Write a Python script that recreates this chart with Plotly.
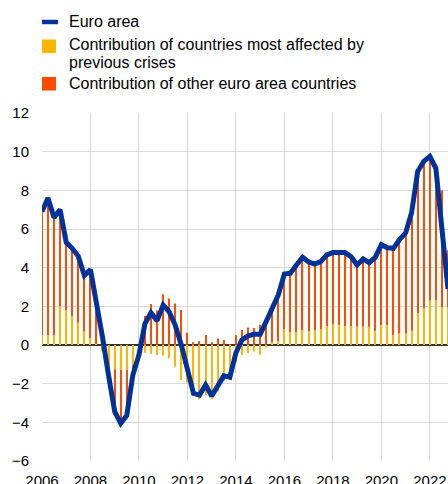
import pandas as pd
import plotly.graph_objects as go

# Quarterly observations, 2006Q1 - 2022Q4
quarters = pd.period_range("2006Q1", periods=68, freq="Q").to_timestamp()

euro_area = [
    6.9, 7.6, 6.6, 7.0, 5.3, 5.0, 4.6, 3.6, 3.9, 2.2,
    0.4, -1.6, -3.45, -4.05, -3.65, -1.55, -0.5, 1.1, 1.67, 1.26,
    2.07, 1.72, 1.03, 0.0, -1.29, -2.5, -2.59, -2.07, -2.64, -2.07,
    -1.6, -1.67, -0.4, 0.26, 0.47, 0.55, 0.55, 1.21, 1.9, 2.59,
    3.67, 3.71, 4.14, 4.54, 4.29, 4.19, 4.31, 4.66, 4.78, 4.78,
    4.78, 4.57, 4.14, 4.45, 4.26, 4.53, 5.19, 5.03, 5.0, 5.45,
    5.8, 6.85, 8.97, 9.5, 9.76, 9.14, 6.3, 2.9,
]

most_affected = [
    0.5, 0.5, 0.5, 2.0, 1.8, 1.5, 1.15, 0.7, 0.35, 0.05,
    -0.3, -1.2, -1.26, -1.29, -1.29, -1.03, -0.43, -0.4, -0.45, -0.52,
    -0.55, -0.69, -1.12, -1.81, -1.93, -2.64, -2.79, -2.59, -2.78, -2.41,
    -1.86, -1.72, -0.9, -0.52, -0.43, -0.33, -0.5, -0.14, 0.15, 0.19,
    0.81, 0.66, 0.66, 0.76, 0.71, 0.76, 0.81, 0.98, 1.07, 1.03,
    0.98, 0.97, 0.95, 0.95, 0.95, 0.74, 1.03, 1.03, 0.52, 0.6,
    0.6, 0.74, 1.66, 1.92, 2.3, 2.33, 1.95, 1.95,
]

other_countries = [
    6.4, 7.1, 6.1, 5.0, 3.5, 3.5, 3.45, 2.9, 3.55, 2.15,
    0.7, -0.4, -2.19, -2.76, -2.36, -0.52, -0.07, 1.5, 2.12, 1.78,
    2.62, 2.41, 2.15, 1.81, 0.64, 0.14, 0.2, 0.52, 0.14, 0.34,
    0.26, 0.05, 0.5, 0.78, 0.9, 0.88, 1.05, 1.35, 1.75, 2.4,
    2.86, 3.05, 3.48, 3.78, 3.58, 3.43, 3.5, 3.68, 3.71, 3.75,
    3.8, 3.6, 3.19, 3.5, 3.31, 3.79, 4.16, 4.0, 4.48, 4.85,
    5.2, 6.11, 7.31, 7.58, 7.46, 6.81, 6.05, 2.95,
]

BLUE = "#003299"
YELLOW = "#FFB400"
ORANGE = "#FF4B00"
FONT = "Liberation Sans, Arial, sans-serif"

W, H = 448, 484
L, R, T, B = 42, 0, 113, 23
PW, PH = W - L - R, H - T - B


def px(x):
    return (x - L) / PW


def py(y):
    return (H - B - y) / PH


bar_width = 18 * 24 * 3600 * 1000  # ~18 days in ms

fig = go.Figure()
fig.add_trace(go.Bar(x=quarters, y=most_affected, marker_color=YELLOW,
                     marker_line_width=0, width=bar_width,
                     name="Contribution of countries most affected by previous crises"))
fig.add_trace(go.Bar(x=quarters, y=other_countries, marker_color=ORANGE,
                     marker_line_width=0, width=bar_width,
                     name="Contribution of other euro area countries"))
fig.add_trace(go.Scatter(x=quarters, y=euro_area, mode="lines",
                         line=dict(color=BLUE, width=5), name="Euro area",
                         cliponaxis=True))

shapes = [
    dict(type="line", xref="paper", yref="paper", x0=px(42), x1=px(58),
         y0=py(22), y1=py(22), line=dict(color=BLUE, width=4.5)),
    dict(type="rect", xref="paper", yref="paper", x0=px(42), x1=px(56),
         y0=py(39.5), y1=py(53), fillcolor=YELLOW, line=dict(width=0)),
    dict(type="rect", xref="paper", yref="paper", x0=px(42), x1=px(56),
         y0=py(77), y1=py(90.5), fillcolor=ORANGE, line=dict(width=0)),
]

legend_lines = [
    ("Euro area", 22),
    ("Contribution of countries most affected by", 44.3),
    ("previous crises", 62.3),
    ("Contribution of other euro area countries", 83.3),
]
annotations = [
    dict(text=t, x=px(67), y=py(yy), xref="paper", yref="paper",
         xanchor="left", yanchor="middle", showarrow=False,
         font=dict(family=FONT, size=16, color="#000000"))
    for t, yy in legend_lines
]

fig.update_layout(
    width=W, height=H, autosize=False,
    margin=dict(l=L, r=R, t=T, b=B, pad=0, autoexpand=False),
    paper_bgcolor="white", plot_bgcolor="white",
    barmode="relative", showlegend=False,
    shapes=shapes, annotations=annotations,
    font=dict(family=FONT, size=15, color="#000000"),
)
fig.update_xaxes(
    type="date", range=["2006-01-01", "2022-10-01"],
    tick0="2006-01-01", dtick="M24", tickformat="%Y",
    showgrid=True, gridcolor="#d9d9d9", gridwidth=1,
    showline=False, zeroline=False, ticks="", automargin=False,
    ticklabelstandoff=9, tickfont=dict(size=15, family=FONT, color="#000000"),
)
fig.update_yaxes(
    range=[-6, 12], dtick=2, tick0=0, automargin=False,
    showgrid=True, gridcolor="#d9d9d9", gridwidth=1,
    zeroline=True, zerolinecolor="#333333", zerolinewidth=1.5,
    showline=False, ticks="", ticklabelstandoff=12,
    tickfont=dict(size=15, family=FONT, color="#000000"),
)

fig.write_html(
    "out.html",
    config={"displayModeBar": False},
    post_script="document.body.style.margin='0';document.body.style.overflow='hidden';",
)
